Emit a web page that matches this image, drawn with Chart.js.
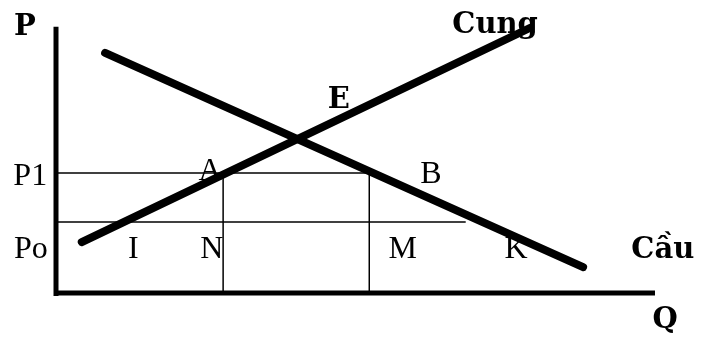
<!DOCTYPE html>
<html>
<head>
<meta charset="utf-8">
<script src="https://cdn.jsdelivr.net/npm/chart.js@4/dist/chart.umd.min.js"></script>
<style>
    html, body { margin: 0; padding: 0; background: #fff; }
    #wrap { width: 708px; height: 339px; }
</style>
</head>
<body>
<div id="wrap"><canvas id="chart-cung-cau" width="708" height="339"></canvas></div>
<script>
// Dados do gráfico (unidades: Q e P de 0 a 100)
const supplyQ = [4.3, 79.1];
const supplyP = [19.2, 100];
const demandQ = [8.2, 88.0];
const demandP = [90.6, 9.8];

const priceP1 = 45.3;
const pricePo = 26.8;
const qtyN = 27.9;
const qtyM = 52.3;
const poLineEnd = 68.4;

const axisQ = [0, 100];
const axisP = [-1.1, 100.5];

// Rótulos: texto, posição (Q, P) da linha de base, negrito
const labelTexts = ['P', 'Cung', 'E', 'A', 'B', 'P1', 'Po', 'I', 'N', 'M', 'K', 'Cầu', 'Q'];
const labelQ = [-5.2, 73.3, 47.2, 25.7, 62.6, -4.3, -4.2, 12.9, 26.0, 57.9, 76.8, 101.3, 101.7];
const labelP = [97.4, 98.1, 69.8, 42.6, 41.5, 40.8, 13.2, 13.2, 13.2, 13.2, 13.2, 13.2, -13.2];
const labelBold = [true, true, true, false, false, false, false, false, false, false, false, true, true];

const toPoints = (qs, ps) => qs.map((q, i) => ({ x: q, y: ps[i] }));

const labelPlugin = {
    id: 'labelPlugin',
    afterDatasetsDraw: (chart) => {
        const ctx = chart.ctx;
        const xs = chart.scales.x;
        const ys = chart.scales.y;
        ctx.save();
        ctx.fillStyle = '#000';
        ctx.textAlign = 'center';
        ctx.textBaseline = 'alphabetic';
        labelTexts.forEach((t, i) => {
            ctx.font = labelBold[i]
                ? 'bold 29px "DejaVu Serif", serif'
                : '32px "Liberation Serif", "Times New Roman", serif';
            ctx.fillText(t, xs.getPixelForValue(labelQ[i]), ys.getPixelForValue(labelP[i]));
        });
        ctx.restore();
    }
};

const lineSet = (points, width, cap) => ({
    data: points,
    showLine: true,
    borderColor: '#000',
    borderWidth: width,
    borderCapStyle: cap || 'butt',
    pointRadius: 0,
    fill: false,
    clip: false
});

new Chart(document.getElementById('chart-cung-cau'), {
    type: 'scatter',
    data: {
        datasets: [
            // eixos
            lineSet(toPoints([0, 0], axisP), 5),
            lineSet(toPoints(axisQ, [0, 0]), 5),
            // linhas auxiliares
            lineSet(toPoints([0, qtyM], [priceP1, priceP1]), 1.5),
            lineSet(toPoints([0, poLineEnd], [pricePo, pricePo]), 1.5),
            lineSet(toPoints([qtyN, qtyN], [0, priceP1]), 1.5),
            lineSet(toPoints([qtyM, qtyM], [0, priceP1]), 1.5),
            // cung e cầu
            lineSet(toPoints(supplyQ, supplyP), 8, 'round'),
            lineSet(toPoints(demandQ, demandP), 8, 'round')
        ]
    },
    options: {
        responsive: false,
        animation: false,
        layout: { padding: 0 },
        plugins: {
            legend: { display: false },
            tooltip: { enabled: false }
        },
        scales: {
            x: { type: 'linear', display: false, min: -9.35, max: 108.85 },
            y: { type: 'linear', display: false, min: -17.36, max: 110.57 }
        }
    },
    plugins: [labelPlugin]
});
</script>
</body>
</html>
